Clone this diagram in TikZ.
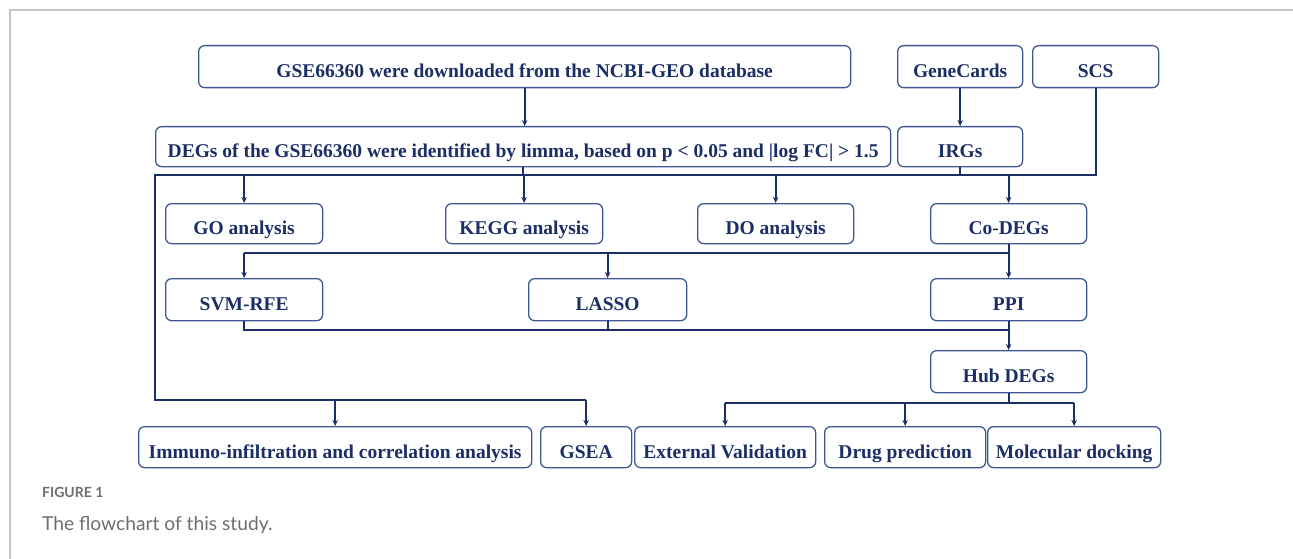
\documentclass[tikz,border=0pt]{standalone}
\usepackage{fontspec}
\setmainfont{Liberation Serif}
\newfontfamily\capfont{Lato}
\usetikzlibrary{arrows.meta}
\definecolor{navy}{HTML}{1B2F66}
\definecolor{edge}{HTML}{3F5893}
\definecolor{capgray}{HTML}{6E6E6E}
\definecolor{framegray}{HTML}{C4C4C4}

\begin{document}
\begin{tikzpicture}[x=1pt,y=-1pt,
  box/.style={draw=edge,line width=1.3pt,rounded corners=6pt,fill=white,text=navy,
    font=\fontsize{19.5}{22}\selectfont\bfseries,inner sep=0pt,anchor=north west,
    text height=24pt,text depth=2pt},
  wire/.style={draw=navy,line width=2pt},
  arr/.style={wire,-{Stealth[length=6pt,width=5.5pt]}}]
  \useasboundingbox (0,0) rectangle (1293,559);
  \draw[framegray, line width=1.5pt] (10,559) -- (10,10) -- (1293,10);

  % boxes
  \node[box,minimum width=652pt,minimum height=42pt] (gse) at (198,45) {GSE66360 were downloaded from the NCBI-GEO database};
  \node[box,minimum width=125pt,minimum height=42pt] (gc) at (897,45) {GeneCards};
  \node[box,minimum width=126pt,minimum height=42pt] (scs) at (1032,45) {SCS};
  \node[box,minimum width=735pt,minimum height=40pt] (degs) at (155,126) {DEGs of the GSE66360 were identified by limma, based on p < 0.05 and |log FC| > 1.5};
  \node[box,minimum width=125pt,minimum height=40pt] (irgs) at (897,126) {IRGs};

  \node[box,minimum width=157pt,minimum height=40pt] (go) at (165,203) {GO analysis};
  \node[box,minimum width=157pt,minimum height=40pt] (kegg) at (445,203) {KEGG analysis};
  \node[box,minimum width=156pt,minimum height=40pt] (do) at (697,203) {DO analysis};
  \node[box,minimum width=156pt,minimum height=40pt] (codegs) at (930,203) {Co-DEGs};

  \node[box,minimum width=157pt,minimum height=42pt] (svm) at (165,278) {SVM-RFE};
  \node[box,minimum width=158pt,minimum height=42pt] (lasso) at (528,278) {LASSO};
  \node[box,minimum width=156pt,minimum height=42pt] (ppi) at (930,278) {PPI};
  \node[box,minimum width=156pt,minimum height=42pt] (hub) at (930,350) {Hub DEGs};

  \node[box,minimum width=393pt,minimum height=41pt] (immuno) at (138,426) {Immuno-infiltration and correlation analysis};
  \node[box,minimum width=91pt,minimum height=41pt] (gsea) at (540,426) {GSEA};
  \node[box,minimum width=181pt,minimum height=41pt] (ext) at (634,426) {External Validation};
  \node[box,minimum width=161pt,minimum height=41pt] (drug) at (824,426) {Drug prediction};
  \node[box,minimum width=173pt,minimum height=41pt] (mol) at (987,426) {Molecular docking};

  % bus levels
  \coordinate (busA) at (155,175);
  \coordinate (busB) at (0,253);
  \coordinate (busC) at (0,330);
  \coordinate (busD) at (155,400);
  \coordinate (busE) at (0,403);

  % connectors
  \draw[arr] (gse.south) -- (gse.south |- degs.north);
  \draw[arr] (gc.south) -- (irgs.north);
  \draw[wire] (scs.south) |- (busA) -- (busD) -- (gsea.north |- busD);
  \draw[wire] (degs.south) -- (degs.south |- busA);
  \draw[wire] (irgs.south) -- (irgs.south |- busA);
  \draw[arr] (go.north |- busA) -- (go.north);
  \draw[arr] (kegg.north |- busA) -- (kegg.north);
  \draw[arr] (do.north |- busA) -- (do.north);
  \draw[arr] (codegs.north |- busA) -- (codegs.north);
  \draw[arr] (immuno.north |- busD) -- (immuno.north);
  \draw[arr] (gsea.north |- busD) -- (gsea.north);

  \draw[arr] (codegs.south) -- (ppi.north);
  \draw[wire] (codegs.south |- busB) -- (svm.north |- busB);
  \draw[arr] (svm.north |- busB) -- (svm.north);
  \draw[arr] (lasso.north |- busB) -- (lasso.north);

  \draw[wire] (svm.south) |- (ppi.south |- busC);
  \draw[wire] (lasso.south) -- (lasso.south |- busC);
  \draw[arr] (ppi.south) -- (hub.north);

  \draw[wire] (hub.south) -- (hub.south |- busE);
  \draw[wire] (ext.north |- busE) -- (mol.north |- busE);
  \draw[arr] (ext.north |- busE) -- (ext.north);
  \draw[arr] (drug.north |- busE) -- (drug.north);
  \draw[arr] (mol.north |- busE) -- (mol.north);

  % caption
  \node[anchor=west,inner sep=0pt,text=capgray,font=\capfont\bfseries\fontsize{14}{16}\selectfont] (figlabel) at (42,492) {FIGURE 1};
  \node[anchor=west,inner sep=0pt,text=capgray,font=\capfont\fontsize{19.2}{22}\selectfont] (caption) at (42,525) {The flowchart of this study.};
\end{tikzpicture}
\end{document}
